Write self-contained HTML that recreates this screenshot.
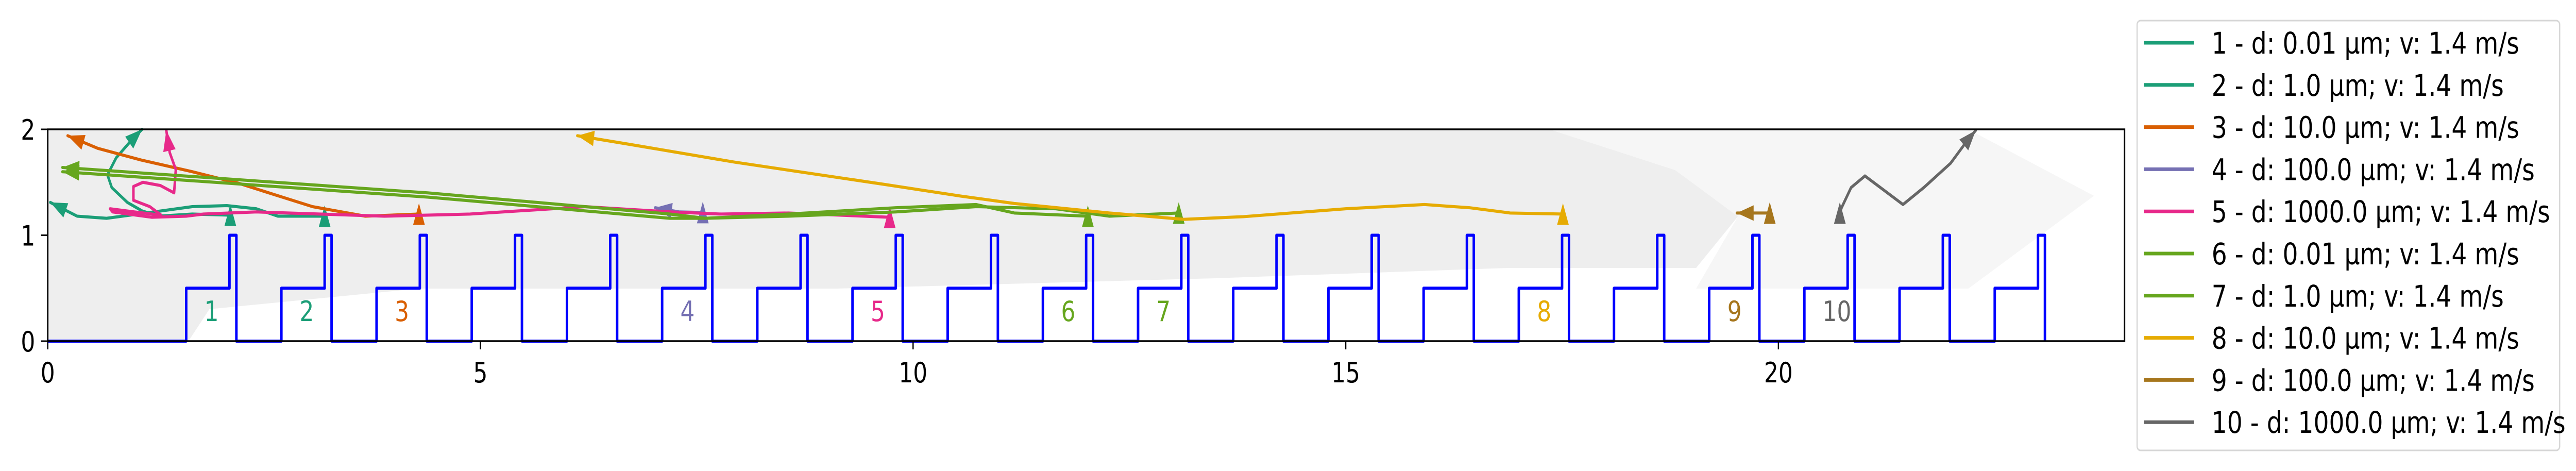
<!DOCTYPE html>
<html><head><meta charset="utf-8"><style>
html,body{margin:0;padding:0;background:#fff;width:100%;height:100%;overflow:hidden}
svg{display:block;width:100vw;height:100vh;font-family:"DejaVu Sans","Liberation Sans",sans-serif}
</style></head><body>
<svg id="chart" viewBox="0 0 6151 914" preserveAspectRatio="none" xmlns="http://www.w3.org/2000/svg">
<rect width="6151" height="914" fill="#fff"/>
<g id="bg">
<path d="M114,662 L114,251 L3700,251 L4000,330 L4150,420 L4050,520 L3600,520 L2900,540 L2000,560 L1000,560 L500,600 L450,662 Z" fill="#eeeeee"/>
<path d="M3700,251 L4700,251 L5000,380 L4700,560 L4050,560 L4150,420 L4000,330 Z" fill="#f6f6f6"/>
</g>
<g id="steps"></g>
<g id="labels"></g>
<g id="series"></g>
<rect x="114" y="251" width="4959" height="411" fill="none" stroke="#000" stroke-width="3.5"/>
<g id="axes"></g>
<g id="legend">
<rect x="5103" y="40" width="1009" height="834" rx="8" fill="#fff" stroke="#d6d6d6" stroke-width="3"/>
</g>
</svg>
<script>
const NS='http://www.w3.org/2000/svg';
const xTicks=[0,5,10,15,20];
const yTicks=[0,1,2];
const stepStarts=[1.6,2.7,3.8,4.9,6.0,7.1,8.2,9.3,10.4,11.5,12.6,13.7,14.8,15.9,17.0,18.1,19.2,20.3,21.4,22.5];
const labelSteps=[1.6,2.7,3.8,7.1,9.3,11.5,12.6,17.0,19.2,20.3];
const labelTexts=['1','2','3','4','5','6','7','8','9','10'];
const colors=['#1b9e77','#1b9e77','#d95f02','#7570b3','#e7298a','#66a61e','#66a61e','#e6ab02','#a6761d','#666666'];
const legendLabels=['1 - d: 0.01 µm; v: 1.4 m/s','2 - d: 1.0 µm; v: 1.4 m/s','3 - d: 10.0 µm; v: 1.4 m/s','4 - d: 100.0 µm; v: 1.4 m/s','5 - d: 1000.0 µm; v: 1.4 m/s','6 - d: 0.01 µm; v: 1.4 m/s','7 - d: 1.0 µm; v: 1.4 m/s','8 - d: 10.0 µm; v: 1.4 m/s','9 - d: 100.0 µm; v: 1.4 m/s','10 - d: 1000.0 µm; v: 1.4 m/s'];
const s1x=[3.20,2.66,2.41,2.07,1.67,1.18,0.68,0.34,0.03];
const s1y=[1.18,1.18,1.25,1.28,1.27,1.215,1.16,1.18,1.31];
const s2x=[2.11,1.67,1.28,1.09,0.92,0.74,0.69,0.79,0.96,1.09];
const s2y=[1.19,1.20,1.18,1.23,1.31,1.45,1.57,1.73,1.89,2.0];
const s3x=[4.29,3.67,3.06,2.71,2.21,1.67,1.08,0.58,0.23];
const s3y=[1.20,1.18,1.27,1.36,1.49,1.60,1.71,1.82,1.94];
const s4x=[7.57,7.3,7.02];
const s4y=[1.215,1.22,1.26];
const s5x=[9.73,8.56,7.78,7.2,6.21,4.88,3.89,2.41,1.8,1.6,1.2,0.75,0.72,1.0,1.31,1.18,0.99,0.99,1.1,1.3,1.46,1.48,1.41,1.37];
const s5y=[1.17,1.21,1.20,1.22,1.27,1.20,1.18,1.22,1.20,1.18,1.17,1.22,1.25,1.22,1.19,1.27,1.33,1.46,1.5,1.47,1.4,1.62,1.78,1.99];
const s6x=[12.02,11.17,10.73,9.80,8.56,7.6,7.19,4.39,0.17];
const s6y=[1.18,1.21,1.29,1.26,1.20,1.16,1.16,1.36,1.60];
const s7x=[13.07,12.27,11.65,10.73,9.80,8.56,7.6,7.19,4.39,0.17];
const s7y=[1.21,1.18,1.25,1.27,1.22,1.18,1.16,1.20,1.40,1.64];
const s8x=[17.51,16.90,16.43,15.91,15.0,13.81,13.13,12.27,11.17,10.55,9.67,7.94,6.71,6.12];
const s8y=[1.20,1.21,1.26,1.29,1.25,1.175,1.15,1.21,1.30,1.37,1.48,1.69,1.86,1.94];
const s9x=[19.90,19.52];
const s9y=[1.21,1.21];
const s10x=[20.71,20.73,20.84,21.0,21.44,21.68,21.99,22.17,22.28];
const s10y=[1.21,1.26,1.45,1.56,1.29,1.45,1.68,1.88,1.99];
const seriesX=[s1x,s2x,s3x,s4x,s5x,s6x,s7x,s8x,s9x,s10x];
const seriesY=[s1y,s2y,s3y,s4y,s5y,s6y,s7y,s8y,s9y,s10y];

const X0=114,X1=5073,Y0=662,Y1=251,XMAX=24,YMAX=2;
function sx(v){return X0+(X1-X0)*v/XMAX;}
function sy(v){return Y0-(Y0-Y1)*v/YMAX;}
function mk(tag,attrs,parent){const e=document.createElementNS(NS,tag);for(const k in attrs)e.setAttribute(k,attrs[k]);parent.appendChild(e);return e;}

const stepsG=document.getElementById('steps');
let d='M'+sx(0)+','+sy(0);
stepStarts.forEach(s=>{
  d+=' L'+sx(s)+','+sy(0)+' L'+sx(s)+','+sy(0.5)+' L'+sx(s+0.5)+','+sy(0.5)+' L'+sx(s+0.5)+','+sy(1)+' L'+sx(s+0.58)+','+sy(1)+' L'+sx(s+0.58)+','+sy(0);
});
const sp=mk('path',{d:d,fill:'none',stroke:'#0000ff','stroke-width':6,'stroke-linejoin':'round'},stepsG);



const labG=document.getElementById('labels');
labelSteps.forEach((s,i)=>{
  const t=mk('text',{x:sx(s+0.21),y:sy(0.19),fill:colors[i],'font-size':54},labG);
  t.textContent=labelTexts[i];
  
  
});

const serG=document.getElementById('series');
seriesX.forEach((xs,i)=>{
  const ys=seriesY[i];
  const g=mk('g',{},serG);
  
  
  const pts=xs.map((x,j)=>sx(x)+','+sy(ys[j])).join(' ');
  mk('polyline',{points:pts,fill:'none',stroke:colors[i],'stroke-width':6,'stroke-linejoin':'round','stroke-linecap':'round'},g);
  const px=sx(xs[0]),py=sy(ys[0]);
  mk('polygon',{points:(px-14)+','+(py+21)+' '+(px+14)+','+(py+21)+' '+px+','+(py-21),fill:colors[i]},g);
  const n=xs.length;
  const ex=sx(xs[n-1]),ey=sy(ys[n-1]),bx=sx(xs[n-2]),by=sy(ys[n-2]);
  let dx=ex-bx,dy=ey-by;const L=Math.hypot(dx,dy)||1;dx/=L;dy/=L;
  const bxx=ex-dx*40,byy=ey-dy*40;
  mk('polygon',{points:ex+','+ey+' '+(bxx-dy*15)+','+(byy+dx*15)+' '+(bxx+dy*15)+','+(byy-dx*15),fill:colors[i]},g);
});

const axG=document.getElementById('axes');
xTicks.forEach(v=>{
  const l=mk('line',{x1:sx(v),x2:sx(v),y1:Y0,y2:Y0+16,stroke:'#000','stroke-width':3},axG);
  
  
  const t=mk('text',{x:sx(v),y:Y0+80,'text-anchor':'middle','font-size':54,fill:'#000'},axG);
  t.textContent=v;
  
  
});
yTicks.forEach(v=>{
  const l=mk('line',{x1:X0-16,x2:X0,y1:sy(v),y2:sy(v),stroke:'#000','stroke-width':3},axG);
  
  
  const t=mk('text',{x:X0-30,y:sy(v)+20,'text-anchor':'end','font-size':54,fill:'#000'},axG);
  t.textContent=v;
  
  
});

const legG=document.getElementById('legend');
legendLabels.forEach((lab,i)=>{
  const y=83+i*81.8;
  const g=mk('g',{},legG);
  
  
  mk('line',{x1:5119,x2:5239,y1:y,y2:y,stroke:colors[i],'stroke-width':7},g);
  const t=mk('text',{x:5281,y:y+21,'font-size':58,fill:'#000'},g);
  t.textContent=lab;
});
</script>
</body></html>
